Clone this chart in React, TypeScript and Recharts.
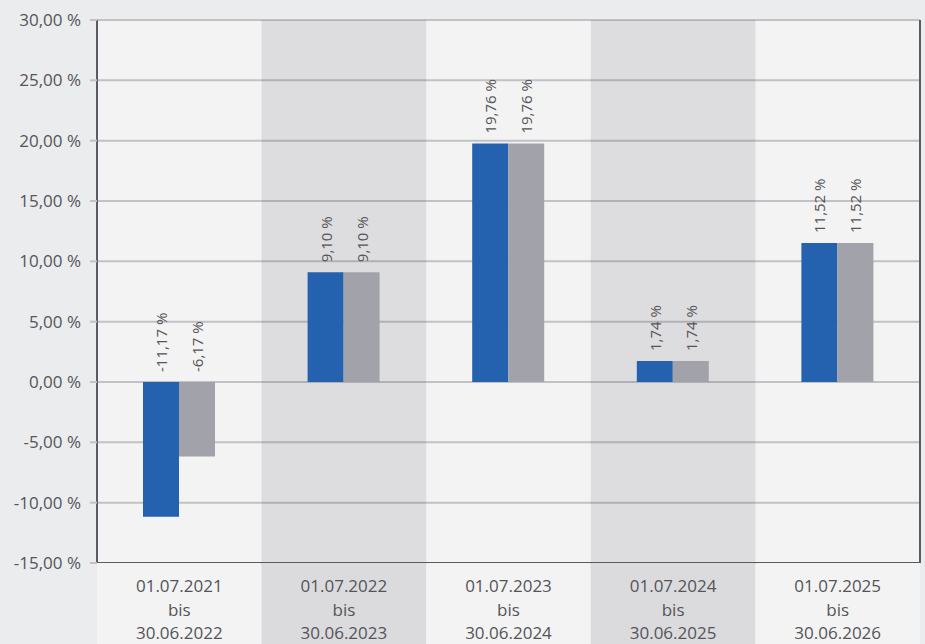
import { ComposedChart, Bar, XAxis, YAxis, CartesianGrid, ReferenceArea } from 'recharts'

const periods = ['2021|2022', '2022|2023', '2023|2024', '2024|2025', '2025|2026']
const fundValues = [-11.17, 9.1, 19.76, 1.74, 11.52]
const benchValues = [-6.17, 9.1, 19.76, 1.74, 11.52]
const yTicks = [-15, -10, -5, 0, 5, 10, 15, 20, 25, 30]

const data = periods.map((p, i) => {
  const [a, b] = p.split('|')
  return { from: `01.07.${a}`, to: `30.06.${b}`, fund: fundValues[i], bench: benchValues[i] }
})

const W = 925
const H = 644
const AXIS_W = 97
const RIGHT_W = 5
const PLOT_W = W - AXIS_W - RIGHT_W
const BAND = PLOT_W / periods.length
const FONT = '"Open Sans", sans-serif'
const TEXT = '#545459'
const LIGHT = '#f3f3f3'
const DARK = '#dbdbdd'

const fmt = (v: number) => `${v.toFixed(2).replace('.', ',')} %`

function BarLabel(props: any) {
  const { x, y, width, height, value } = props
  const cx = x + width / 2
  const top = Math.min(y, y + height) - 10
  return (
    <text
      x={cx}
      y={top}
      transform={`rotate(-90, ${cx}, ${top})`}
      textAnchor="start"
      dominantBaseline="central"
      fontSize={15}
      fontFamily={FONT}
      fill={TEXT}
    >
      {fmt(value)}
    </text>
  )
}

function PeriodTick(props: any) {
  const { x, y, payload, index } = props
  const row = data[index]
  return (
    <g>
      <rect x={x - BAND / 2} y={y} width={BAND} height={H - y} fill={index % 2 ? DARK : LIGHT} />
      <text x={x} y={y + 29} textAnchor="middle" fontSize={17} fontFamily={FONT} fill={TEXT}>
        <tspan x={x}>{payload.value}</tspan>
        <tspan x={x} dy={23.5}>bis</tspan>
        <tspan x={x} dy={23.5}>{row ? row.to : ''}</tspan>
      </text>
    </g>
  )
}

export default function App() {
  return (
    <div style={{ position: 'absolute', left: 0, top: 0, width: W, height: H, background: '#ebecee' }}>
      <ComposedChart
        width={W}
        height={H}
        data={data}
        margin={{ top: 20, right: 0, bottom: 0, left: 0 }}
        barSize={36}
        barGap={0}
      >
        <CartesianGrid yAxisId="l" vertical={false} fill={LIGHT} stroke="#c1c1c6" strokeWidth={2} />
        {data
          .filter((_, i) => i % 2 === 1)
          .map((d) => (
            <ReferenceArea
              key={d.from}
              yAxisId="l"
              x1={d.from}
              x2={d.from}
              fill="#1a1a30"
              fillOpacity={0.1}
              stroke="none"
            />
          ))}
        <XAxis
          dataKey="from"
          height={H - 563}
          axisLine={{ stroke: '#5a5a62', strokeWidth: 2 }}
          tickLine={false}
          tickSize={0}
          tickMargin={0}
          interval={0}
          tick={<PeriodTick />}
        />
        <YAxis
          yAxisId="l"
          width={AXIS_W}
          domain={[-15, 30]}
          ticks={yTicks}
          interval={0}
          tickFormatter={fmt}
          axisLine={{ stroke: '#5a5a62', strokeWidth: 2 }}
          tickLine={{ stroke: '#c1c1c6', strokeWidth: 2 }}
          tickSize={7}
          tickMargin={9}
          tick={{ fontSize: 17, fontFamily: FONT, fill: TEXT }}
        />
        <YAxis
          yAxisId="r"
          orientation="right"
          width={RIGHT_W}
          domain={[-15, 30]}
          tick={false}
          tickLine={false}
          axisLine={{ stroke: '#5a5a62', strokeWidth: 2 }}
        />
        <Bar yAxisId="l" dataKey="fund" fill="#2461ae" isAnimationActive={false} label={<BarLabel />} />
        <Bar yAxisId="l" dataKey="bench" fill="#a2a2aa" isAnimationActive={false} label={<BarLabel />} />
      </ComposedChart>
    </div>
  )
}
